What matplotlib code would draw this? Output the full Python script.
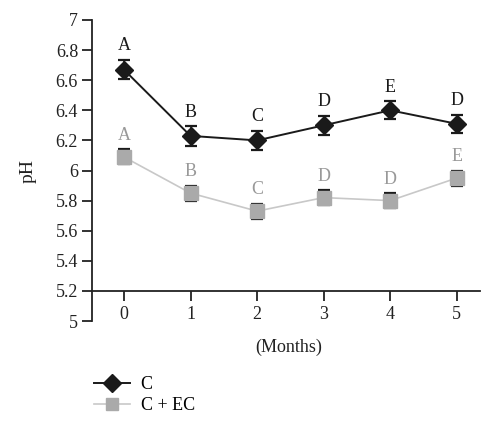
import matplotlib as mpl
mpl.use('agg')
import matplotlib.pyplot as plt
from matplotlib.lines import Line2D

plt.rcParams['font.family'] = ['Liberation Serif', 'DejaVu Serif']

months = [0, 1, 2, 3, 4, 5]
ph_c = [6.67, 6.23, 6.20, 6.30, 6.40, 6.31]
err_c = [0.065, 0.065, 0.065, 0.065, 0.06, 0.06]
ph_cec = [6.09, 5.85, 5.73, 5.82, 5.80, 5.95]
err_cec = [0.05, 0.05, 0.05, 0.05, 0.05, 0.05]
letters_c = ['A', 'B', 'C', 'D', 'E', 'D']
letters_cec = ['A', 'B', 'C', 'D', 'D', 'E']
yticks = [5, 5.2, 5.4, 5.6, 5.8, 6, 6.2, 6.4, 6.6, 6.8, 7]

fig = plt.figure(figsize=(4.84, 4.21), dpi=100)
ax = fig.add_axes([0.19, 0.2375, 0.802, 0.715])

dark = '#1a1a1a'
grey = '#aaaaaa'
lgrey = '#c8c8c8'
fs = 13

ax.errorbar(months, ph_c, yerr=err_c, color=dark, marker='D', markersize=9.5,
            lw=1.4, ecolor=dark, elinewidth=1.2, capsize=4, capthick=1.6, zorder=3)
ax.errorbar(months, ph_cec, yerr=err_cec, color=lgrey, marker='s', markersize=10.5,
            mfc=grey, mec=grey, lw=1.2, ecolor=dark, elinewidth=1.2, capsize=4,
            capthick=1.6, zorder=3)

for x, y, e, t in zip(months, ph_c, err_c, letters_c):
    ax.annotate(t, (x, y + e), xytext=(0, 4), textcoords='offset points',
                ha='center', va='bottom', fontsize=fs, color=dark)
for x, y, e, t in zip(months, ph_cec, err_cec, letters_cec):
    ax.annotate(t, (x, y + e), xytext=(0, 4), textcoords='offset points',
                ha='center', va='bottom', fontsize=fs, color='#999999')

ax.set_xlim(-0.48, 5.35)
ax.set_ylim(5, 7)
ax.set_yticks(yticks)
ax.set_yticklabels([('%g' % v) for v in yticks])
ax.set_xticks(months)

ax.spines['top'].set_visible(False)
ax.spines['right'].set_visible(False)
ax.spines['bottom'].set_position(('data', 5.2))
for s in ['left', 'bottom']:
    ax.spines[s].set_linewidth(1.3)
    ax.spines[s].set_color('#222222')
ax.tick_params(axis='both', direction='out', length=7, width=1.3, color='#222222',
               labelsize=fs, labelcolor='#222222')
ax.tick_params(axis='x', pad=4)
ax.tick_params(axis='y', pad=3)

ax.set_ylabel('pH', fontsize=14, color='#222222', labelpad=14)
fig.text(0.597, 0.175, '(Months)', ha='center', va='center', fontsize=fs, color='#222222')

h1 = Line2D([], [], color=dark, marker='D', markersize=9, lw=1.4)
h2 = Line2D([], [], color=lgrey, marker='s', markersize=9, mfc=grey, mec=grey, lw=1.2)
fig.legend(handles=[h1, h2], labels=['C', 'C + EC'], loc='lower left',
           bbox_to_anchor=(0.16, -0.022), frameon=False, fontsize=fs,
           handlelength=2.0, labelspacing=0.2, handletextpad=0.6)

fig.savefig('out.png', dpi=100)
